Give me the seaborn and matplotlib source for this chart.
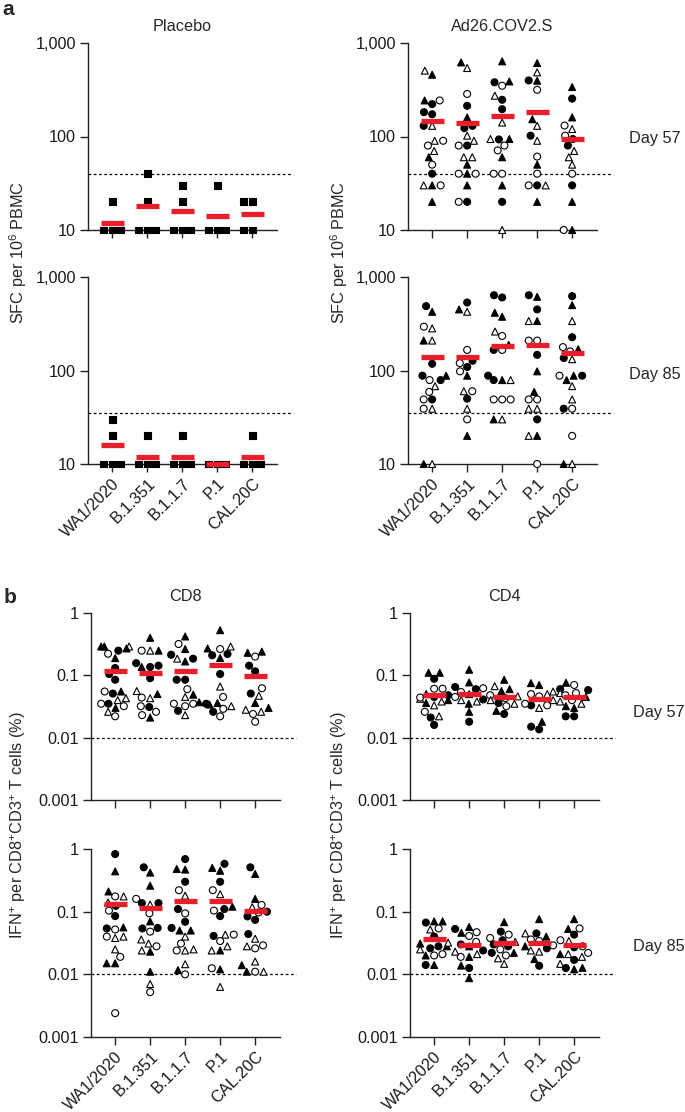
import numpy as np
import pandas as pd
import matplotlib
matplotlib.use("Agg")
import matplotlib.pyplot as plt
from matplotlib.markers import MarkerStyle
from matplotlib.ticker import NullLocator
import seaborn as sns

variants = ["WA1/2020", "B.1.351", "B.1.1.7", "P.1", "CAL.20C"]

# marker codes: T filled triangle, t open triangle, C filled circle, c open circle, S filled square

### --- a: SFC per 10^6 PBMC --- ###
placebo_d57 = [[20, 10, 10, 10], [40, 20, 10, 10, 10], [30, 20, 10, 10, 10], [30, 10, 10, 10], [20, 20, 10, 10]]
placebo_d57_mid = [12, 18, 16, 14, 15]
placebo_d85 = [[30, 20, 10, 10, 10], [20, 10, 10, 10], [20, 10, 10, 10], [10, 10, 10], [20, 10, 10, 10]]
placebo_d85_mid = [16, 12, 12, 10, 12]

ad26_d57 = [
    [458, 506, 222, 243, 243, 173, 182, 130, 130, 90, 90, 80, 70, 60, 50, 40, 30, 30, 30, 20],
    [540, 620, 285, 213, 160, 123, 130, 102, 90, 80, 80, 60, 60, 50, 40, 40, 40, 30, 20, 20],
    [637, 349, 388, 380, 273, 247, 196, 141, 94, 94, 93, 80, 71, 60, 40, 40, 30, 20, 10],
    [610, 485, 398, 395, 316, 153, 130, 90, 102, 61, 50, 40, 30, 30, 30, 20],
    [338, 254, 160, 120, 131, 102, 94, 80, 70, 60, 50, 40, 30, 20, 10, 10],
]
ad26_d57_code = ["TtCTcCCtCtcctTcCtcTT", "tTcCTCCttCcttTcTcTCc", "TcTCtCCttTCccTccTCt",
                 "TtCTcTttCcTctCcT", "TCTtccCCtttcCTcT"]
ad26_d57_mid = [147, 139, 166, 182, 93]

ad26_d85 = [
    [425, 488, 282, 294, 209, 209, 118, 88, 88, 79, 79, 68, 59, 49, 49, 39, 39, 10, 10],
    [534, 425, 450, 166, 127, 120, 109, 88, 98, 50, 60, 60, 39, 30, 20],
    [604, 638, 376, 415, 261, 234, 166, 188, 166, 88, 79, 79, 79, 49, 49, 49, 30, 30],
    [614, 638, 450, 338, 338, 209, 209, 147, 98, 59, 49, 49, 39, 39, 30, 20, 20, 10],
    [624, 500, 338, 227, 178, 160, 169, 132, 136, 88, 88, 88, 79, 68, 49, 39, 39, 20, 10, 10],
]
ad26_d85_code = ["TCtcTtCTCCctccCtcTt", "CtTcCcCTcCcttcT", "CCTTtccTCCTtCcccTt",
                 "TCCTtccCTTccttCTtc", "CTtCccTtCCcTTttcCctT"]
ad26_d85_mid = [139, 139, 181, 188, 153]

sfc_cutoff = [40, 35]

### --- b: IFN+ per CD8+CD3+ T cells (%) --- ###
cd8_d57 = [
    [0.29, 0.29, 0.29, 0.27, 0.222, 0.249, 0.189, 0.131, 0.105, 0.085, 0.055, 0.055, 0.051, 0.043, 0.040, 0.030, 0.035, 0.032, 0.026, 0.022, 0.035],
    [0.40, 0.249, 0.249, 0.249, 0.136, 0.136, 0.143, 0.157, 0.090, 0.043, 0.044, 0.050, 0.056, 0.032, 0.031, 0.021, 0.026, 0.023],
    [0.42, 0.318, 0.264, 0.214, 0.185, 0.185, 0.167, 0.085, 0.085, 0.060, 0.049, 0.035, 0.035, 0.037, 0.045, 0.023, 0.027, 0.032],
    [0.53, 0.264, 0.27, 0.29, 0.19, 0.21, 0.22, 0.105, 0.066, 0.045, 0.036, 0.034, 0.035, 0.032, 0.022, 0.029, 0.026],
    [0.20, 0.24, 0.23, 0.143, 0.116, 0.062, 0.051, 0.047, 0.036, 0.030, 0.028, 0.026, 0.024, 0.018],
]
cd8_d57_code = ["tTTTcCTCCCcTCttTCctcc", "TcTtCTCCCtcTtcCTcc", "TcTCCtTCCcTccTttCc",
                "TcTtTCCCtcTTCtccC", "cTTCCcCtTTttcc"]
cd8_d57_mid = [0.116, 0.111, 0.118, 0.145, 0.096]

cd4_d57 = [
    [0.088, 0.11, 0.11, 0.061, 0.061, 0.048, 0.045, 0.042, 0.040, 0.044, 0.050, 0.038, 0.033, 0.026, 0.022, 0.021, 0.016, 0.036],
    [0.123, 0.077, 0.065, 0.062, 0.060, 0.054, 0.040, 0.041, 0.026, 0.018, 0.038, 0.050, 0.045, 0.035],
    [0.085, 0.056, 0.067, 0.048, 0.060, 0.040, 0.032, 0.027, 0.024, 0.043, 0.036, 0.046, 0.035],
    [0.070, 0.075, 0.055, 0.050, 0.033, 0.033, 0.030, 0.018, 0.0136, 0.015, 0.040, 0.046, 0.050, 0.035],
    [0.076, 0.060, 0.070, 0.052, 0.052, 0.045, 0.040, 0.035, 0.032, 0.030, 0.022, 0.022, 0.048, 0.058, 0.038],
]
cd4_d57_code = ["CTTccCCtTcTttctCCT", "TTCcCctCTCtTcT", "TTtcTtcTCcCtt",
                "TTtcCctTCCtctc", "TCcctTctTTCCcCt"]
cd4_d57_mid = [0.049, 0.051, 0.045, 0.042, 0.045]

cd8_d85 = [
    [0.83, 0.44, 0.175, 0.175, 0.21, 0.124, 0.104, 0.085, 0.14, 0.052, 0.056, 0.054, 0.038, 0.040, 0.040, 0.025, 0.019, 0.015, 0.015, 0.0024],
    [0.42, 0.51, 0.26, 0.16, 0.13, 0.137, 0.137, 0.094, 0.070, 0.054, 0.055, 0.048, 0.036, 0.031, 0.028, 0.024, 0.023, 0.011, 0.007, 0.0052],
    [0.69, 0.47, 0.48, 0.30, 0.22, 0.18, 0.11, 0.094, 0.069, 0.055, 0.050, 0.050, 0.040, 0.031, 0.024, 0.024, 0.025, 0.0145, 0.0117, 0.010],
    [0.45, 0.58, 0.50, 0.30, 0.19, 0.22, 0.12, 0.11, 0.104, 0.085, 0.043, 0.043, 0.041, 0.034, 0.028, 0.024, 0.024, 0.012, 0.0125, 0.0063],
    [0.40, 0.51, 0.128, 0.16, 0.118, 0.10, 0.084, 0.097, 0.074, 0.044, 0.037, 0.026, 0.029, 0.028, 0.016, 0.011, 0.014, 0.011, 0.011],
]
cd8_d85_code = ["CTtcTCcCtcTCtcttcTTc", "TCTctCCcTCCcttctTTtc", "CTTCctCcCCTTtcctttTc",
                "TCTCtcTCcCctCctTtTct", "TCcTtCCcCCtccttcTTt"]
cd8_d85_mid = [0.131, 0.113, 0.149, 0.149, 0.104]

cd4_d85 = [
    [0.070, 0.067, 0.070, 0.052, 0.054, 0.040, 0.020, 0.021, 0.020, 0.0141, 0.0141, 0.028, 0.028, 0.032, 0.026, 0.025, 0.031],
    [0.053, 0.057, 0.047, 0.046, 0.041, 0.030, 0.028, 0.019, 0.019, 0.0126, 0.0138, 0.0087, 0.023, 0.024, 0.033, 0.021],
    [0.068, 0.048, 0.038, 0.043, 0.035, 0.028, 0.020, 0.022, 0.022, 0.0147, 0.018, 0.030, 0.033, 0.025],
    [0.076, 0.045, 0.045, 0.036, 0.034, 0.028, 0.023, 0.026, 0.029, 0.0175, 0.0137, 0.024, 0.040],
    [0.076, 0.054, 0.053, 0.043, 0.035, 0.034, 0.027, 0.028, 0.021, 0.021, 0.017, 0.0147, 0.012, 0.0126, 0.0127, 0.019, 0.022],
]
cd4_d85_code = ["TCTtcCccTCTCTtCtT", "CTcTcCTTcCTTtCct", "TCccCCcTCttCtc",
                "TCtccTtCcTCtT", "TcTCctCcTtCtTCTtc"]
cd4_d85_mid = [0.037, 0.029, 0.032, 0.032, 0.029]

ifn_cutoff = 0.01

sns.set_theme(style="ticks")
plt.rcParams['font.family'] = ['Liberation Sans', 'DejaVu Sans']
plt.rcParams['mathtext.fontset'] = 'custom'
plt.rcParams['mathtext.rm'] = 'Liberation Sans'
plt.rcParams['mathtext.default'] = 'regular'

FS = 11.7
RED = "#e5202a"
AXC = "#222222"


def marker_path(m):
    ms = MarkerStyle(m)
    return ms.get_path().transformed(ms.get_transform())


PATHS = {"T": marker_path("^"), "t": marker_path("^"), "C": marker_path("o"),
         "c": marker_path("o"), "S": marker_path("s")}
FILL = {"T": "black", "t": "white", "C": "black", "c": "white", "S": "black"}


def draw_panel(ax, vals, codes, mids, cutoff, ylim, yticks, yticklabels, show_x):
    rows = [(variants[i], v, c) for i in range(len(variants)) for v, c in zip(vals[i], codes[i])]
    df = pd.DataFrame(rows, columns=["variant", "value", "code"])
    n0 = len(ax.collections)
    sns.swarmplot(data=df, x="variant", y="value", order=variants, ax=ax,
                  log_scale=(False, True), size=5, color="black", edgecolor="black",
                  linewidth=0.8, warn_thresh=1)
    for i, coll in enumerate(ax.collections[n0:]):
        cs = df.loc[df["variant"] == variants[i], "code"]
        coll.set_paths([PATHS[c] for c in cs])
        coll.set_facecolor([FILL[c] for c in cs])
        coll.set_edgecolor("black")
        coll.set_clip_on(False)
        coll.set_zorder(3)

    xs = np.arange(len(variants))
    ax.hlines(mids, xs - 0.33, xs + 0.33, color=RED, lw=3.8, zorder=4, clip_on=False)
    ax.axhline(cutoff, xmin=0, xmax=1.085, ls=(0, (2.2, 2.0)), lw=0.9, color="black",
               clip_on=False, zorder=1)

    ax.set_xlim(-0.69, 4.71)
    ax.set_ylim(*ylim)
    ax.set_yticks(yticks)
    ax.set_yticklabels(yticklabels)
    ax.yaxis.set_minor_locator(NullLocator())
    ax.set_xticks(xs)
    if show_x:
        ax.set_xticklabels(variants, rotation=45, ha="right", va="top", rotation_mode="anchor")
    else:
        ax.set_xticklabels([])
    ax.set_xlabel("")
    ax.set_ylabel("")
    ax.tick_params(axis="both", length=6, width=1.0, pad=2.5, labelsize=FS, color=AXC, labelcolor="#1a1a1a")
    sns.despine(ax=ax)
    for s in ["left", "bottom"]:
        ax.spines[s].set_linewidth(1.0)
        ax.spines[s].set_color(AXC)


fig = plt.figure(figsize=(6.85, 11.12), dpi=100)
W, H = 685, 1112


def add_ax(left_px, top_px, bottom_px):
    return fig.add_axes([left_px / W, 1 - bottom_px / H, 189 / W, (bottom_px - top_px) / H])


sfc_ticks = [10, 100, 1000]
sfc_labels = ["10", "100", "1,000"]
ifn_ticks = [0.001, 0.01, 0.1, 1]
ifn_labels = ["0.001", "0.01", "0.1", "1"]

ax = add_ax(88, 43, 230)
draw_panel(ax, placebo_d57, ["SSSS", "SSSSS", "SSSSS", "SSSS", "SSSS"], placebo_d57_mid,
           sfc_cutoff[0], (10, 1000), sfc_ticks, sfc_labels, False)
ax.set_title("Placebo", fontsize=FS, pad=8.5)

ax = add_ax(408, 43, 230)
draw_panel(ax, ad26_d57, ad26_d57_code, ad26_d57_mid, sfc_cutoff[0], (10, 1000),
           sfc_ticks, sfc_labels, False)
ax.set_title("Ad26.COV2.S", fontsize=FS, pad=8.5)

ax = add_ax(88, 277, 464)
draw_panel(ax, placebo_d85, ["SSSSS", "SSSS", "SSSS", "SSS", "SSSS"], placebo_d85_mid,
           sfc_cutoff[1], (10, 1000), sfc_ticks, sfc_labels, True)

ax = add_ax(408, 277, 464)
draw_panel(ax, ad26_d85, ad26_d85_code, ad26_d85_mid, sfc_cutoff[1], (10, 1000),
           sfc_ticks, sfc_labels, True)

ax = add_ax(91, 613, 800)
draw_panel(ax, cd8_d57, cd8_d57_code, cd8_d57_mid, ifn_cutoff, (0.001, 1),
           ifn_ticks, ifn_labels, False)
ax.set_title("CD8", fontsize=FS, pad=8.5)

ax = add_ax(410, 613, 800)
draw_panel(ax, cd4_d57, cd4_d57_code, cd4_d57_mid, ifn_cutoff, (0.001, 1),
           ifn_ticks, ifn_labels, False)
ax.set_title("CD4", fontsize=FS, pad=8.5)

ax = add_ax(91, 849, 1037)
draw_panel(ax, cd8_d85, cd8_d85_code, cd8_d85_mid, ifn_cutoff, (0.001, 1),
           ifn_ticks, ifn_labels, True)

ax = add_ax(410, 849, 1037)
draw_panel(ax, cd4_d85, cd4_d85_code, cd4_d85_mid, ifn_cutoff, (0.001, 1),
           ifn_ticks, ifn_labels, True)

# shared y labels, day labels, panel letters
sfc_label = "SFC per 10$^6$ PBMC"
ifn_label = "IFN$^{+}$ per CD8$^{+}$CD3$^{+}$ T cells (%)"
for x in [18, 339]:
    fig.text(x / W, 1 - 253 / H, sfc_label, rotation=90, ha="center", va="center", fontsize=FS)
    fig.text(x / W, 1 - 825 / H, ifn_label, rotation=90, ha="center", va="center", fontsize=FS)

fig.text(629 / W, 1 - 139 / H, "Day 57", ha="left", va="center", fontsize=FS)
fig.text(629 / W, 1 - 375 / H, "Day 85", ha="left", va="center", fontsize=FS)
fig.text(633 / W, 1 - 712 / H, "Day 57", ha="left", va="center", fontsize=FS)
fig.text(633 / W, 1 - 947 / H, "Day 85", ha="left", va="center", fontsize=FS)

fig.text(2 / W, 1 - 0 / H, "a", ha="left", va="top", fontsize=15, weight="bold")
fig.text(4 / W, 1 - 588 / H, "b", ha="left", va="top", fontsize=15, weight="bold")

fig.savefig("out.png", dpi=100)
